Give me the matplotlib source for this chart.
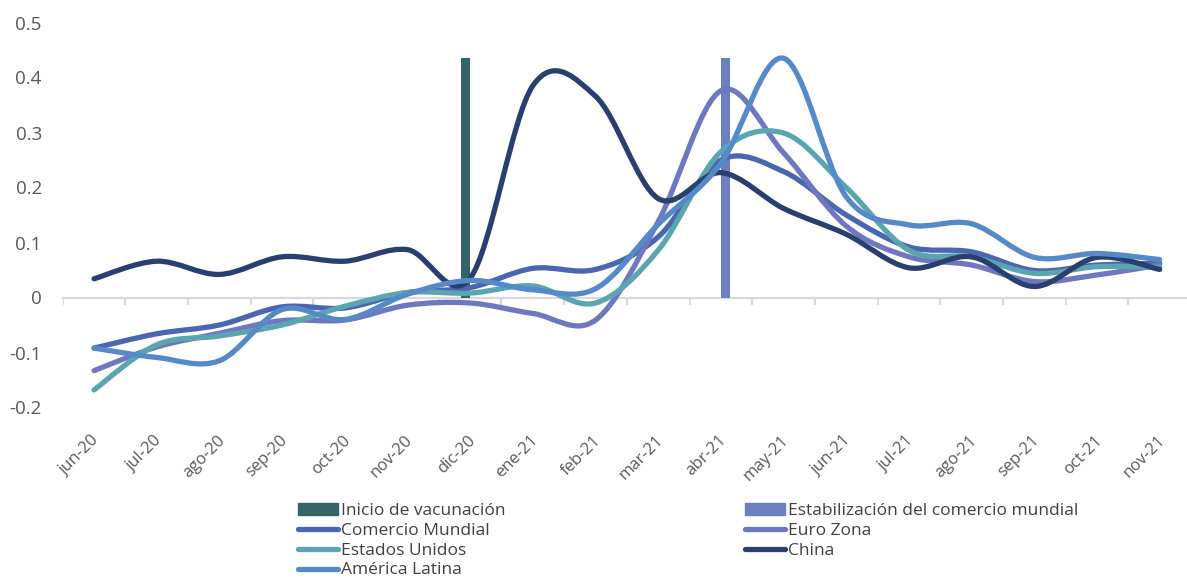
import numpy as np
import matplotlib
matplotlib.use('Agg')
import matplotlib.pyplot as plt
from matplotlib import font_manager
from matplotlib.path import Path
from matplotlib.patches import PathPatch, Patch
from matplotlib.lines import Line2D
from matplotlib.transforms import ScaledTranslation

# Monthly categories
months = ['jun-20', 'jul-20', 'ago-20', 'sep-20', 'oct-20', 'nov-20', 'dic-20',
          'ene-21', 'feb-21', 'mar-21', 'abr-21', 'may-21', 'jun-21', 'jul-21',
          'ago-21', 'sep-21', 'oct-21', 'nov-21']

# Marker bars (columns)
inicio_vacunacion = [0, 0, 0, 0, 0, 0, 0.435, 0, 0, 0, 0, 0, 0, 0, 0, 0, 0, 0]
estabilizacion = [0, 0, 0, 0, 0, 0, 0, 0, 0, 0, 0.435, 0, 0, 0, 0, 0, 0, 0]

# Series values
comercio_mundial = [-0.092, -0.066, -0.050, -0.017, -0.019, 0.009, 0.018, 0.053, 0.051,
                    0.110, 0.250, 0.229, 0.150, 0.092, 0.083, 0.049, 0.059, 0.062]
euro_zona = [-0.133, -0.090, -0.065, -0.042, -0.041, -0.014, -0.010, -0.029, -0.041,
             0.138, 0.376, 0.263, 0.130, 0.074, 0.059, 0.029, 0.041, 0.059]
estados_unidos = [-0.168, -0.086, -0.070, -0.050, -0.016, 0.009, 0.008, 0.021, -0.010,
                  0.086, 0.265, 0.299, 0.200, 0.086, 0.074, 0.044, 0.056, 0.055]
china = [0.034, 0.066, 0.042, 0.074, 0.066, 0.087, 0.035, 0.385, 0.366,
         0.180, 0.227, 0.162, 0.115, 0.054, 0.074, 0.020, 0.073, 0.051]
america_latina = [-0.092, -0.109, -0.115, -0.022, -0.040, 0.006, 0.031, 0.014, 0.016,
                  0.133, 0.244, 0.435, 0.183, 0.132, 0.134, 0.073, 0.080, 0.069]

# pick a narrow-ish font if present
names = {f.name for f in font_manager.fontManager.ttflist}
font = 'Liberation Sans Narrow' if 'Liberation Sans Narrow' in names else 'Open Sans'
plt.rcParams['font.family'] = [font, 'DejaVu Sans']
text_color = '#595959'


def smooth_path(xs, ys):
    # Excel-style smoothed line: Catmull-Rom as cubic Bezier segments
    pts = np.column_stack([xs, ys]).astype(float)
    ext = np.vstack([pts[0], pts, pts[-1]])
    verts = [pts[0]]
    codes = [Path.MOVETO]
    for i in range(1, len(ext) - 2):
        p0, p1, p2, p3 = ext[i - 1], ext[i], ext[i + 1], ext[i + 2]
        verts += [p1 + (p2 - p0) / 6, p2 - (p3 - p1) / 6, p2]
        codes += [Path.CURVE4] * 3
    return Path(verts, codes)


fig = plt.figure(figsize=(11.87, 5.83), dpi=100)
ax = fig.add_axes([62.7 / 1187, (583 - 407.5) / 583, 1128.3 / 1187, 385 / 583])
ax.set_xlim(-0.5, 17.5)
ax.set_ylim(-0.2, 0.5)

x = np.arange(len(months))
w = 0.145
ax.bar(x - w / 2, inicio_vacunacion, w, color='#356468', zorder=2)
ax.bar(x + w / 2, estabilizacion, w, color='#6b80c0', zorder=2)

# zero line with category separators
ax.axhline(0, color='#d9d9d9', lw=1.6, zorder=1, clip_on=False)
ax.vlines(np.arange(-0.5, 18, 1), -0.013, 0, color='#d9d9d9', lw=1.6, zorder=1)

series = [
    ('Comercio Mundial', comercio_mundial, '#4a66b0'),
    ('Euro Zona', euro_zona, '#6f78bf'),
    ('Estados Unidos', estados_unidos, '#5aa5b0'),
    ('China', china, '#2a3f6e'),
    ('América Latina', america_latina, '#5589c8'),
]
lw = 3.8
handles = {}
for name, vals, col in series:
    ax.add_patch(PathPatch(smooth_path(x, vals), fill=False, edgecolor=col, lw=lw,
                           capstyle='round', joinstyle='round', zorder=3))
    handles[name] = Line2D([], [], color=col, lw=lw, solid_capstyle='round')
handles['Inicio de vacunación'] = Patch(color='#356468')
handles['Estabilización del comercio mundial'] = Patch(color='#6b80c0')

for s in ax.spines.values():
    s.set_visible(False)

ax.set_yticks([-0.2, -0.1, 0, 0.1, 0.2, 0.3, 0.4, 0.5])
ax.set_yticklabels(['-0.2', '-0.1', '0', '0.1', '0.2', '0.3', '0.4', '0.5'])
ax.tick_params(axis='y', length=0, pad=15, labelsize=13.5, labelcolor=text_color)

ax.set_xticks(x)
ax.set_xticklabels(months, rotation=45, ha='right', va='center', rotation_mode='anchor')
ax.tick_params(axis='x', length=0, pad=22, labelsize=12, labelcolor=text_color)
for lab in ax.get_xticklabels():
    lab.set_transform(lab.get_transform() + ScaledTranslation(3 / 100, 0, fig.dpi_scale_trans))

# legend: two columns laid out like the original
col1 = ['Inicio de vacunación', 'Comercio Mundial', 'Estados Unidos', 'América Latina']
col2 = ['Estabilización del comercio mundial', 'Euro Zona', 'China']
common = dict(loc='upper left', frameon=False, fontsize=12.5, labelcolor='#404040',
              handlelength=2.3, handleheight=0.63, handletextpad=0.17,
              labelspacing=0.22, borderpad=0, borderaxespad=0)
leg1 = fig.legend([handles[n] for n in col1], col1,
                  bbox_to_anchor=(298 / 1187, 1 - 503 / 583), **common)
leg2 = fig.legend([handles[n] for n in col2], col2,
                  bbox_to_anchor=(745 / 1187, 1 - 503 / 583), **common)

fig.savefig('out.png', dpi=100)
